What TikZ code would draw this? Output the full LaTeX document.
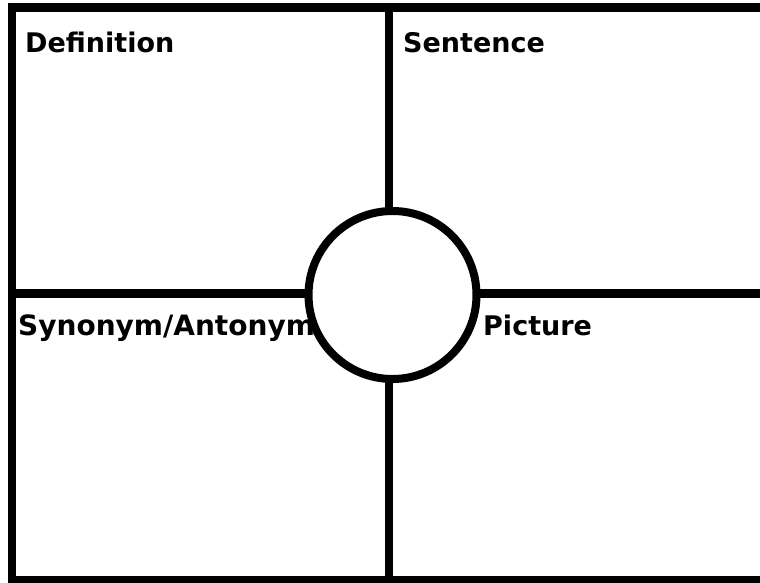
\documentclass[tikz,border=0pt]{standalone}
\usepackage{fontspec}
\setmainfont{DejaVu Sans}
\begin{document}
\begin{tikzpicture}[x=1pt,y=-1pt,
  rule/.style={line width=8.5pt,black},
  lbl/.style={anchor=base west,inner sep=0pt,font=\fontsize{27}{30}\selectfont\bfseries}]
\useasboundingbox (0,0) rectangle (760,583);
\fill[white] (0,0) rectangle (760,583);
% frame corners and line ends
\coordinate (tr) at (775,7.5);
\coordinate (tl) at (12,7.5);
\coordinate (bl) at (12,580);
\coordinate (br) at (775,580);
\coordinate (vt) at (389,7.5);
\coordinate (vb) at (389,580);
\coordinate (hl) at (12,293.5);
\coordinate (hr) at (775,293.5);
\draw[rule] (tr) -- (tl) -- (bl) -- (br);
\draw[rule,line width=8pt] (vt) -- (vb);
\draw[rule,line width=9pt] (hl) -- (hr);
% labels
\node[lbl] (def) at (25,53) {Definition};
\node[lbl] (sen) at (403,53) {Sentence};
\node[lbl,font=\fontsize{28}{30}\selectfont\bfseries] (syn) at (18,335) {Synonym/Antonym};
\node[lbl] (pic) at (483,335) {Picture};
% centre circle
\node[circle,draw=black,line width=8pt,fill=white,minimum size=168pt,inner sep=0pt] (c) at (392.5,295) {};
\end{tikzpicture}
\end{document}
